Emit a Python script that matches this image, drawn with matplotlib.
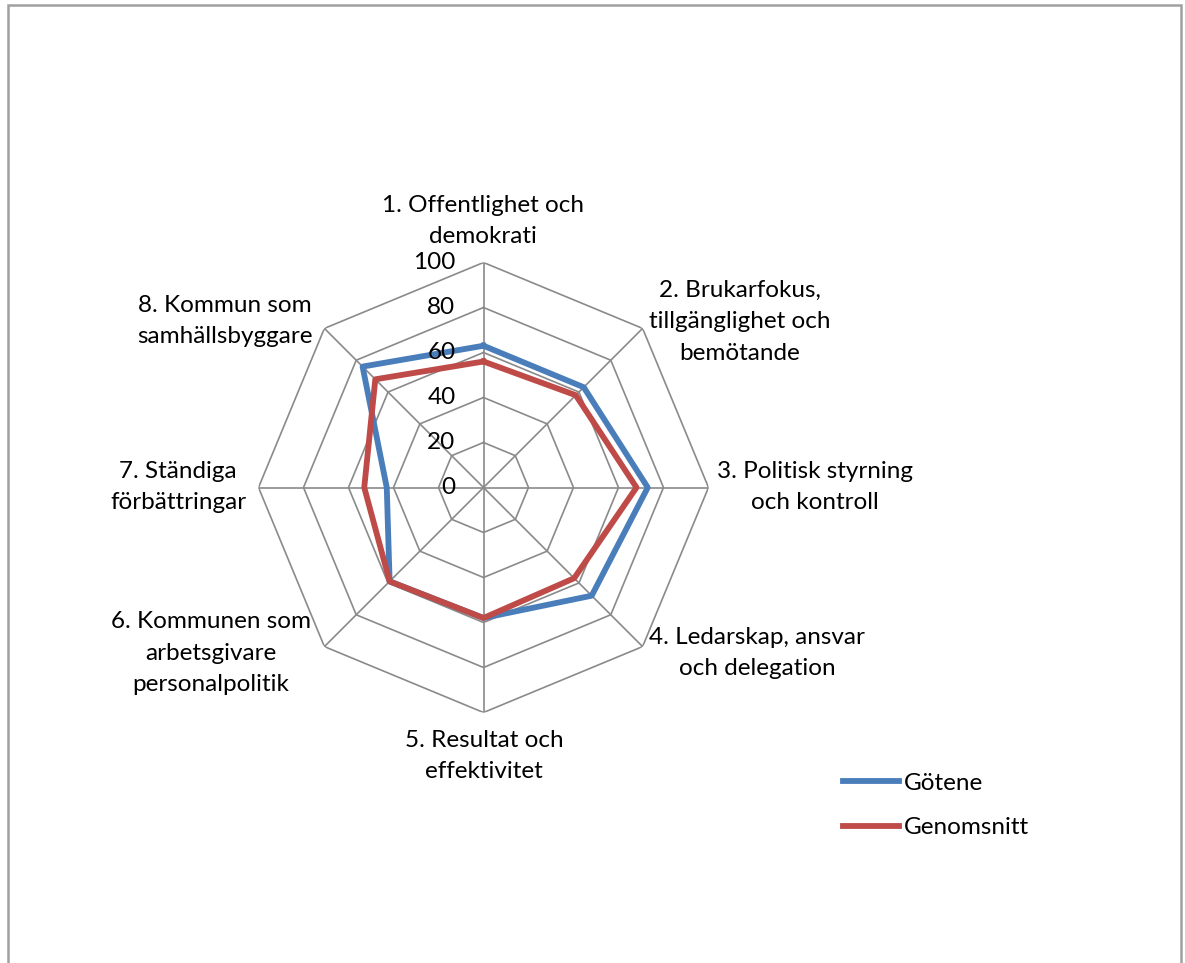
import numpy as np
import matplotlib.pyplot as plt
from matplotlib.transforms import offset_copy
from matplotlib.patches import Rectangle

plt.rcParams['font.family'] = ['Lato', 'DejaVu Sans']

categories = ["1. Offentlighet och\ndemokrati",
              "2. Brukarfokus,\ntillgänglighet och\nbemötande",
              "3. Politisk styrning\noch kontroll",
              "4. Ledarskap, ansvar\noch delegation",
              "5. Resultat och\neffektivitet",
              "6. Kommunen som\narbetsgivare\npersonalpolitik",
              "7. Ständiga\nförbättringar",
              "8. Kommun som\nsamhällsbyggare"]
gotene = [63, 63, 73, 68, 58, 59, 43, 76]
genomsnitt = [56, 58, 68, 57, 58, 59, 53, 68]
ticks = [0, 20, 40, 60, 80, 100]

# label centres in pixels (x, y from top)
label_pos = [(483, 221), (740, 322), (815, 487), (757, 653),
             (484, 756), (211, 653), (178, 487), (225, 321)]

W, H = 1185, 963
FS = 17.5
fig = plt.figure(figsize=(W/100, H/100), dpi=100)
cx, cy, R = 483.5, 487.5, 225
ax = fig.add_axes([(cx-R)/W, (H-cy-R)/H, 2*R/W, 2*R/H], projection='polar')
ax.set_theta_zero_location('N')
ax.set_theta_direction(-1)
ax.set_ylim(0, 100)
ax.grid(False)
ax.set_xticks([])
ax.set_yticks([])
ax.spines['polar'].set_visible(False)
ax.patch.set_visible(False)

n = len(categories)
ang = np.arange(n) * 2*np.pi/n
closed = np.append(ang, ang[0])
grid_col = '#8a8a8a'
for t in ticks[1:]:
    ax.plot(closed, [t]*(n+1), color=grid_col, lw=1.2, zorder=1)
for a in ang:
    ax.plot([a, a], [0, 100], color=grid_col, lw=1.2, zorder=1)

ax.plot(closed, gotene + gotene[:1], color='#4a7ebb', lw=4.2, label='Götene', zorder=3)
ax.plot(closed, genomsnitt + genomsnitt[:1], color='#be4b48', lw=4.2, label='Genomsnitt', zorder=4)

tr = offset_copy(ax.transData, fig=fig, x=-28, y=0, units='dots')
for t in ticks:
    ax.text(0, t, str(t), transform=tr, ha='right', va='center', fontsize=FS, zorder=5)

for lab, (x, y) in zip(categories, label_pos):
    fig.text(x/W, 1-y/H, lab, ha='center', va='center', fontsize=FS,
             linespacing=1.63)

fig.legend(loc='center left', bbox_to_anchor=(843/W, 1-805.5/H), frameon=False,
           fontsize=FS, handlelength=2.3, handletextpad=0.2, labelspacing=0.95,
           borderpad=0, borderaxespad=0)

fig.patches.append(Rectangle((8/W, -0.1), (1181-8)/W, 1.1-5/H, transform=fig.transFigure,
                             fill=False, edgecolor='#a0a0a0', lw=1.8))

fig.savefig('out.png', dpi=100, facecolor='white')
